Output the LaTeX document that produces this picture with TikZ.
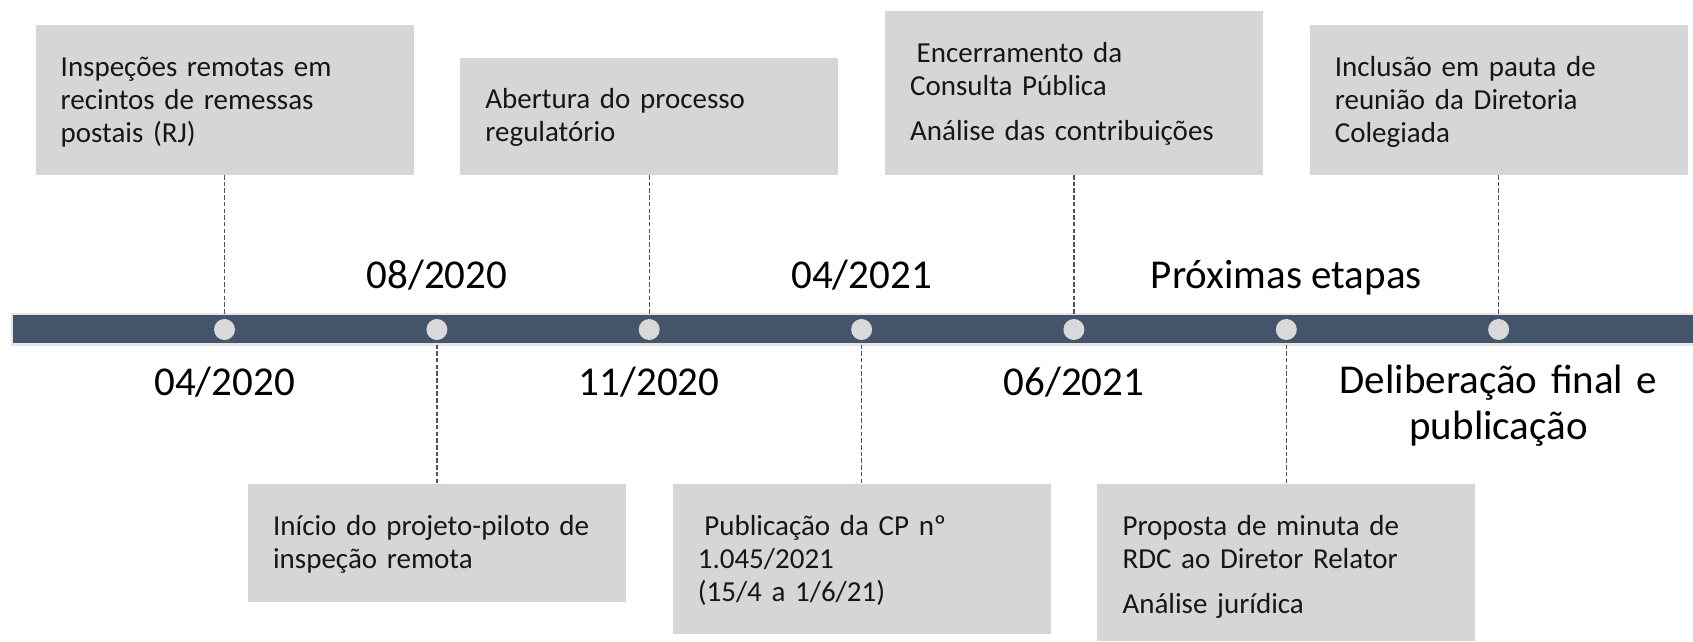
\documentclass[tikz,border=0pt]{standalone}
\usepackage{fontspec}
\setmainfont{Carlito}
\definecolor{boxgray}{HTML}{D5D6D8}
\definecolor{barblue}{HTML}{44546A}
\definecolor{barline}{HTML}{E6E6E6}
\definecolor{dotgray}{HTML}{D9D9D9}
\definecolor{txt}{HTML}{161616}
\begin{document}
\begin{tikzpicture}[x=1pt,y=-1pt,
  evbox/.style={fill=boxgray, anchor=north west, minimum width=378, minimum height=#1, inner sep=0, outer sep=0},
  evtext/.style={anchor=base west, text width=355, align=left, inner sep=0, text=txt, font=\fontsize{29}{33}\selectfont},
  barstyle/.style={fill=barblue, draw=barline, line width=2.5pt, anchor=north west, minimum width=1700, minimum height=30.5, inner sep=0, outer sep=0},
  dotstyle/.style={circle, fill=dotgray, minimum size=21, inner sep=0},
  dashln/.style={draw=barblue, line width=1.3pt, dash pattern=on 4.5pt off 2.2pt},
  datelbl/.style={anchor=base, inner sep=0, text=black, font=\fontsize{41}{46}\selectfont}
]
\useasboundingbox (0,0) rectangle (1693,641);

% bar and dots
\node[barstyle] (bar) at (12,314) {};
\node[dotstyle] (d1) at (224.5,329.5) {};
\node[dotstyle] (d2) at (436.9,329.5) {};
\node[dotstyle] (d3) at (649.2,329.5) {};
\node[dotstyle] (d4) at (861.6,329.5) {};
\node[dotstyle] (d5) at (1073.9,329.5) {};
\node[dotstyle] (d6) at (1286.3,329.5) {};
\node[dotstyle] (d7) at (1498.6,329.5) {};

% top boxes
\node[evbox=150] (b1) at (35.5,25) {};
\node[evtext] (t1) at (60.5,76) {Inspeções remotas em\\recintos de remessas\\postais (RJ)};
\node[evbox=117.5] (b3) at (460.2,57.5) {};
\node[evtext] (t3) at (485.2,108.5) {Abertura do processo\\regulatório};
\node[evbox=164] (b5) at (884.9,11) {};
\node[evtext] (t5) at (909.9,62) {\hspace*{0.226em}Encerramento da\\Consulta Pública\\[12pt]Análise das contribuições};
\node[evbox=150] (b7) at (1309.6,25) {};
\node[evtext] (t7) at (1334.6,76) {Inclusão em pauta de\\reunião da Diretoria\\Colegiada};

% bottom boxes
\node[evbox=118] (b2) at (247.9,484) {};
\node[evtext] (t2) at (272.9,535) {Início do projeto-piloto de\\inspeção remota};
\node[evbox=150] (b4) at (672.6,484) {};
\node[evtext] (t4) at (697.6,535) {\hspace*{0.226em}Publicação da CP nº\\1.045/2021\\(15/4 a 1/6/21)};
\node[evbox=157] (b6) at (1097.3,484) {};
\node[evtext] (t6) at (1122.3,535) {Proposta de minuta de\\RDC ao Diretor Relator\\[12pt]Análise jurídica};

% connectors
\draw[dashln] (b1.south) -- (b1.south |- bar.north);
\draw[dashln] (b3.south) -- (b3.south |- bar.north);
\draw[dashln] (b5.south) -- (b5.south |- bar.north);
\draw[dashln] (b7.south) -- (b7.south |- bar.north);
\draw[dashln] (bar.south -| b2.north) -- (b2.north);
\draw[dashln] (bar.south -| b4.north) -- (b4.north);
\draw[dashln] (bar.south -| b6.north) -- (b6.north);

% date labels
\node[datelbl] (l1) at (224.5,395) {04/2020};
\node[datelbl] (l2) at (436.9,288) {08/2020};
\node[datelbl] (l3) at (649.2,395) {11/2020};
\node[datelbl] (l4) at (861.6,288) {04/2021};
\node[datelbl] (l5) at (1073.9,395) {06/2021};
\node[datelbl] (l6) at (1286.3,288) {Próximas etapas};
\node[datelbl, text width=420, align=center] (l7) at (1498.6,393) {Deliberação final e\\publicação};
\end{tikzpicture}
\end{document}
